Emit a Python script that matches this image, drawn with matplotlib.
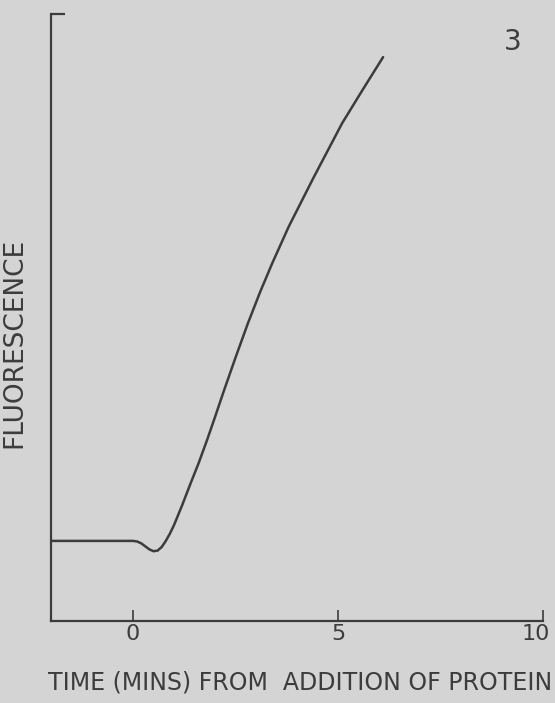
import matplotlib
matplotlib.use("Agg")
import matplotlib.pyplot as plt
import matplotlib.transforms as mtransforms

# fluorescence trace after protein addition (arbitrary units)
time_min = [-2.0, -1.0, 0.0, 0.1, 0.2, 0.3, 0.4, 0.5, 0.6, 0.7, 0.8, 0.9,
            1.0, 1.2, 1.4, 1.6, 1.8, 2.0, 2.2, 2.5, 2.8, 3.1, 3.4, 3.8,
            4.4, 5.1, 5.6, 6.1]
fluor = [13.2, 13.2, 13.2, 13.1, 12.8, 12.3, 11.8, 11.5, 11.6, 12.2, 13.2,
         14.4, 15.8, 19.1, 22.6, 26.0, 29.7, 33.6, 37.6, 43.4, 49.0, 54.2,
         59.0, 65.0, 73.0, 82.0, 87.5, 92.9]

x_ticks = [0, 5, 10]
x_ticklabels = ["0", "5", "10"]
panel_label = "3"

plt.rcParams["font.family"] = ["DejaVu Sans"]

bg = "#d4d4d4"
ink = "#3c3c3c"

fig = plt.figure(figsize=(5.55, 7.03), dpi=100, facecolor=bg)
ax = fig.add_axes([0.0919, 0.1166, 0.8865, 0.8635], facecolor=bg)

ax.plot(time_min, fluor, color=ink, lw=1.8, solid_capstyle="round")

ax.set_xlim(-2, 10)
ax.set_ylim(0, 100)

for side in ("top", "right"):
    ax.spines[side].set_visible(False)
for side in ("left", "bottom"):
    ax.spines[side].set_color(ink)
    ax.spines[side].set_linewidth(1.6)

ax.set_xticks(x_ticks)
ax.set_xticklabels(x_ticklabels, fontsize=16, color=ink)
ax.tick_params(axis="x", direction="in", length=8, width=1.2, color=ink, pad=2)
# nudge the last label so it stays inside the figure
last = ax.get_xticklabels()[-1]
last.set_transform(last.get_transform() +
                   mtransforms.ScaledTranslation(-5 / 72, 0, fig.dpi_scale_trans))
ax.set_yticks([100])
ax.tick_params(axis="y", direction="in", length=10, width=1.6, color=ink,
               labelleft=False)

ax.set_xlabel("TIME (MINS) FROM  ADDITION OF PROTEIN", fontsize=17,
              color=ink, labelpad=19, x=0.506)
ax.set_ylabel("FLUORESCENCE", fontsize=19, color=ink, labelpad=17, y=0.458)

ax.text(0.939, 0.954, panel_label, transform=ax.transAxes, fontsize=20,
        color=ink, ha="center", va="center")

fig.savefig("out.png", dpi=100, facecolor=bg)
